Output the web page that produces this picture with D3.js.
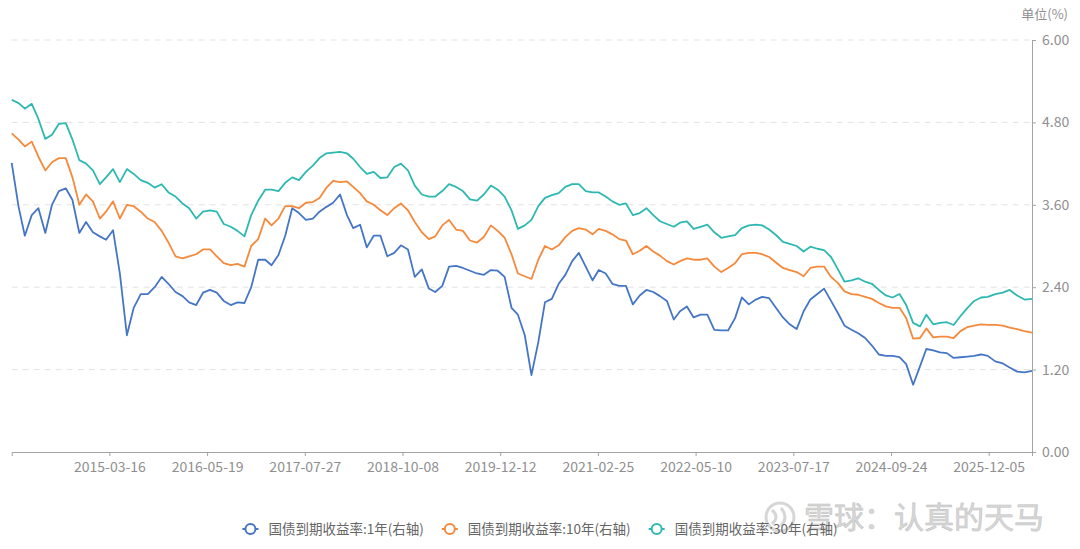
<!DOCTYPE html>
<html>
<head>
<meta charset="utf-8">
<script src="https://cdn.jsdelivr.net/npm/d3@7"></script>
<style>
	body { margin: 0; background: #fff; }
	svg text { font-family: "Noto Sans CJK SC", "Noto Sans", sans-serif; }
</style>
</head>
<body>
<div id="chart"></div>
<script>
// monthly samples, first value = 2014-01
const firstMonth = "2014-01";

const xTickLabels = ["2015-03-16", "2016-05-19", "2017-07-27", "2018-10-08", "2019-12-12",
	"2021-02-25", "2022-05-10", "2023-07-17", "2024-09-24", "2025-12-05"];

const yTicks = [0, 1.2, 2.4, 3.6, 4.8, 6.0];

const seriesNames = ["国债到期收益率:1年(右轴)", "国债到期收益率:10年(右轴)", "国债到期收益率:30年(右轴)"];
const seriesColors = ["#4576c6", "#f5893c", "#2db8b1"];

const yield1Y = [
	4.21, 3.57, 3.15, 3.45, 3.55, 3.19, 3.60, 3.80, 3.84, 3.67, 3.19, 3.35,
	3.20, 3.14, 3.09, 3.23, 2.60, 1.70, 2.10, 2.30, 2.30, 2.40, 2.55, 2.45,
	2.33, 2.27, 2.18, 2.14, 2.32, 2.36, 2.32, 2.20, 2.14, 2.18, 2.17, 2.40,
	2.80, 2.80, 2.72, 2.87, 3.15, 3.55, 3.48, 3.38, 3.40, 3.50, 3.57, 3.63,
	3.75, 3.45, 3.26, 3.31, 2.98, 3.15, 3.15, 2.85, 2.90, 3.01, 2.95, 2.55,
	2.66, 2.38, 2.33, 2.42, 2.70, 2.71, 2.68, 2.64, 2.60, 2.58, 2.65, 2.64,
	2.55, 2.10, 2.00, 1.70, 1.12, 1.60, 2.18, 2.23, 2.45, 2.58, 2.78, 2.90,
	2.70, 2.50, 2.65, 2.60, 2.45, 2.42, 2.42, 2.15, 2.28, 2.36, 2.33, 2.27,
	2.20, 1.93, 2.05, 2.12, 1.96, 2.00, 2.00, 1.78, 1.77, 1.77, 1.95, 2.25,
	2.15, 2.22, 2.26, 2.24, 2.10, 1.96, 1.86, 1.79, 2.05, 2.22, 2.30, 2.38,
	2.20, 2.02, 1.84, 1.78, 1.73, 1.66, 1.55, 1.42, 1.40, 1.40, 1.38, 1.28,
	0.98, 1.25, 1.50, 1.48, 1.45, 1.44, 1.37, 1.38, 1.39, 1.40, 1.42, 1.40,
	1.32, 1.29, 1.23, 1.17, 1.16, 1.18
];

const yield10Y = [
	4.64, 4.55, 4.45, 4.52, 4.30, 4.10, 4.22, 4.28, 4.28, 4.00, 3.60, 3.75,
	3.65, 3.40, 3.50, 3.65, 3.40, 3.60, 3.58, 3.50, 3.40, 3.35, 3.22, 3.05,
	2.85, 2.82, 2.85, 2.88, 2.95, 2.95, 2.85, 2.75, 2.72, 2.74, 2.70, 3.00,
	3.10, 3.40, 3.30, 3.40, 3.58, 3.58, 3.55, 3.63, 3.64, 3.70, 3.85, 3.95,
	3.93, 3.94, 3.86, 3.77, 3.65, 3.60, 3.52, 3.45, 3.55, 3.62, 3.52, 3.35,
	3.20, 3.10, 3.14, 3.30, 3.38, 3.24, 3.22, 3.08, 3.05, 3.13, 3.30, 3.22,
	3.12, 2.88, 2.60, 2.56, 2.52, 2.80, 3.00, 2.95, 3.01, 3.13, 3.22, 3.26,
	3.24, 3.17, 3.25, 3.22, 3.17, 3.10, 3.08, 2.88, 2.93, 3.00, 2.92, 2.86,
	2.78, 2.73, 2.78, 2.82, 2.80, 2.80, 2.82, 2.70, 2.62, 2.68, 2.75, 2.88,
	2.90, 2.90, 2.88, 2.84, 2.76, 2.68, 2.65, 2.62, 2.56, 2.68, 2.70, 2.70,
	2.55, 2.46, 2.34, 2.30, 2.29, 2.26, 2.23, 2.17, 2.12, 2.10, 2.10, 1.95,
	1.65, 1.66, 1.80, 1.67, 1.68, 1.68, 1.66, 1.76, 1.82, 1.84, 1.86, 1.85,
	1.85, 1.84, 1.81, 1.79, 1.76, 1.74
];

const yield30Y = [
	5.13, 5.08, 5.00, 5.07, 4.85, 4.56, 4.62, 4.78, 4.79, 4.55, 4.25, 4.20,
	4.10, 3.90, 4.00, 4.12, 3.93, 4.12, 4.05, 3.96, 3.92, 3.85, 3.90, 3.78,
	3.72, 3.62, 3.55, 3.40, 3.50, 3.52, 3.50, 3.32, 3.28, 3.22, 3.14, 3.45,
	3.66, 3.82, 3.82, 3.80, 3.92, 4.00, 3.96, 4.08, 4.17, 4.28, 4.35, 4.36,
	4.37, 4.35, 4.27, 4.15, 4.05, 4.08, 3.99, 4.00, 4.15, 4.20, 4.10, 3.88,
	3.75, 3.72, 3.72, 3.80, 3.90, 3.86, 3.80, 3.68, 3.66, 3.75, 3.88, 3.82,
	3.72, 3.52, 3.25, 3.30, 3.38, 3.58, 3.70, 3.74, 3.77, 3.86, 3.90, 3.90,
	3.80, 3.78, 3.78, 3.72, 3.65, 3.60, 3.62, 3.45, 3.48, 3.55, 3.45, 3.36,
	3.32, 3.28, 3.34, 3.36, 3.25, 3.28, 3.31, 3.20, 3.12, 3.14, 3.16, 3.26,
	3.30, 3.31, 3.30, 3.24, 3.16, 3.06, 3.03, 3.00, 2.92, 2.99, 2.96, 2.94,
	2.84, 2.66, 2.48, 2.50, 2.53, 2.48, 2.45, 2.36, 2.28, 2.25, 2.30, 2.14,
	1.88, 1.83, 2.00, 1.86, 1.88, 1.89, 1.85, 1.98, 2.10, 2.20, 2.25, 2.26,
	2.30, 2.32, 2.36, 2.28, 2.22, 2.23
];

const allSeries = [yield1Y, yield10Y, yield30Y];

const width = 1080, height = 549;
const margin = { top: 40, right: 48, bottom: 97, left: 11.7 };
const plotW = width - margin.left - margin.right;
const plotH = height - margin.top - margin.bottom;
const labelGap = 97.7; // distance between x labels (category-style spacing)

const parseDay = d3.timeParse("%Y-%m-%d");
const start = d3.timeParse("%Y-%m")(firstMonth);
const months = d3.range(yield1Y.length).map(i => d3.timeMonth.offset(start, i));
const tickDates = xTickLabels.map(parseDay);

// piecewise time scale so the labels sit evenly apart like a category axis
const x = d3.scaleTime()
	.domain([months[0], ...tickDates, months[months.length - 1]])
	.range([0, ...tickDates.map((d, i) => (i + 1) * labelGap), plotW]);

const y = d3.scaleLinear()
	.domain([0, 6])
	.range([plotH, 0]);

const svg = d3.select("#chart")
	.append("svg")
	.attr("width", width)
	.attr("height", height);

const g = svg.append("g")
	.attr("transform", `translate(${margin.left}, ${margin.top})`);

// dashed grid
g.append("g")
	.selectAll("line")
	.data(yTicks.filter(d => d > 0))
	.join("line")
	.attr("x1", 0)
	.attr("x2", plotW)
	.attr("y1", d => y(d))
	.attr("y2", d => y(d))
	.attr("stroke", "#e3e3e3")
	.attr("stroke-dasharray", "6,5");

// x axis
const xAxis = g.append("g")
	.attr("transform", `translate(0, ${plotH})`)
	.call(d3.axisBottom(x)
		.tickValues(tickDates)
		.tickFormat(d3.timeFormat("%Y-%m-%d"))
		.tickSize(4)
		.tickSizeOuter(4)
		.tickPadding(6));

// right y axis
const yAxis = g.append("g")
	.attr("transform", `translate(${plotW}, 0)`)
	.call(d3.axisRight(y)
		.tickValues(yTicks)
		.tickFormat(d3.format(".2f"))
		.tickSize(4)
		.tickSizeOuter(0)
		.tickPadding(6));

[xAxis, yAxis].forEach(a => {
	a.select(".domain").attr("stroke", "#a3a3a3");
	a.selectAll(".tick line").attr("stroke", "#a3a3a3");
	a.selectAll("text")
		.attr("fill", "#8f8f8f")
		.style("font-size", "14px");
});

svg.append("text")
	.attr("x", 1068)
	.attr("y", 19)
	.attr("text-anchor", "end")
	.attr("fill", "#8f8f8f")
	.style("font-size", "13px")
	.text("单位(%)");

// lines
const line = d3.line()
	.x((d, i) => x(months[i]))
	.y(d => y(d));

g.append("g")
	.selectAll("path")
	.data(allSeries)
	.join("path")
	.attr("fill", "none")
	.attr("stroke", (d, i) => seriesColors[i])
	.attr("stroke-width", 1.8)
	.attr("stroke-linejoin", "round")
	.attr("d", line);

// watermark
const wm = svg.append("g").attr("opacity", 0.9);
wm.append("circle")
	.attr("cx", 780)
	.attr("cy", 517)
	.attr("r", 14)
	.attr("fill", "none")
	.attr("stroke", "#d2d2d2")
	.attr("stroke-width", 3);
wm.append("path")
	.attr("d", "M772,510 q8,7 0,14 M781,508 q8,9 0,18")
	.attr("fill", "none")
	.attr("stroke", "#d2d2d2")
	.attr("stroke-width", 3);
wm.append("text")
	.attr("x", 804)
	.attr("y", 528)
	.attr("fill", "#d4d4d4")
	.attr("stroke", "#bdbdbd")
	.attr("stroke-width", 0.6)
	.style("font-size", "30px")
	.text("雪球：认真的天马");

// legend
const legend = svg.append("g");
const items = legend.selectAll("g")
	.data(seriesNames)
	.join("g");

items.append("line")
	.attr("x1", -8)
	.attr("x2", 8)
	.attr("stroke", (d, i) => seriesColors[i])
	.attr("stroke-width", 2);
items.append("circle")
	.attr("r", 5)
	.attr("fill", "#fff")
	.attr("stroke", (d, i) => seriesColors[i])
	.attr("stroke-width", 2);
items.append("text")
	.attr("x", 18)
	.attr("dy", "0.35em")
	.attr("fill", "#666")
	.style("font-size", "13.5px")
	.text(d => d);

const itemW = [];
items.each(function () {
	itemW.push(8 + 18 + d3.select(this).select("text").node().getComputedTextLength());
});
const gap = 18;
const totalW = d3.sum(itemW) + gap * (itemW.length - 1);
let cursor = width / 2 - totalW / 2 + 8;
items.attr("transform", (d, i) => {
	const t = `translate(${cursor}, 529)`;
	cursor += itemW[i] + gap;
	return t;
});
</script>
</body>
</html>
